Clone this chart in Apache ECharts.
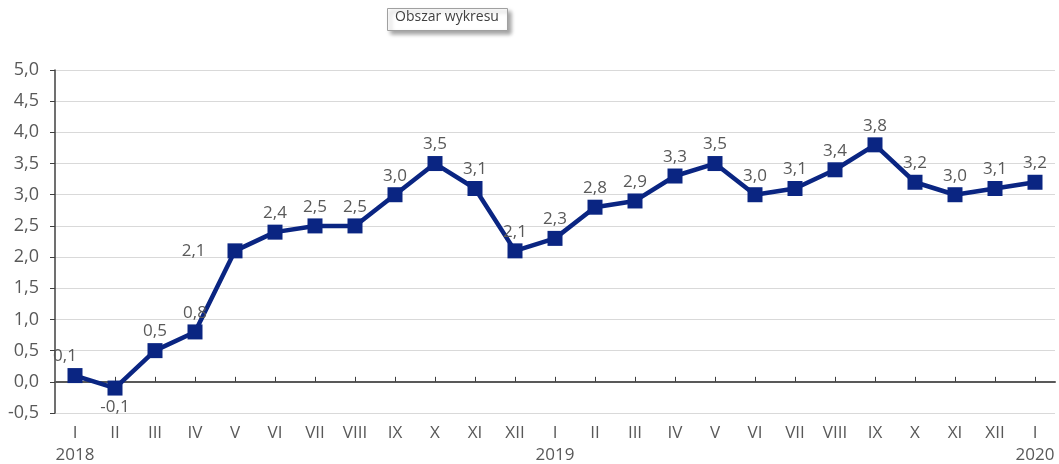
<!DOCTYPE html>
<html>
<head>
<meta charset="utf-8">
<script src="https://cdn.jsdelivr.net/npm/echarts@6/dist/echarts.min.js"></script>
<style>
html, body { margin: 0; padding: 0; background: #fff; }
#chart { width: 1059px; height: 464px; }
</style>
</head>
<body>
<div id="chart"></div>
<script>
var months = ['I', 'II', 'III', 'IV', 'V', 'VI', 'VII', 'VIII', 'IX', 'X', 'XI', 'XII',
	'I', 'II', 'III', 'IV', 'V', 'VI', 'VII', 'VIII', 'IX', 'X', 'XI', 'XII', 'I'];
var years = ['2018', '', '', '', '', '', '', '', '', '', '', '',
	'2019', '', '', '', '', '', '', '', '', '', '', '', '2020'];
var values = [0.1, -0.1, 0.5, 0.8, 2.1, 2.4, 2.5, 2.5, 3.0, 3.5, 3.1, 2.1,
	2.3, 2.8, 2.9, 3.3, 3.5, 3.0, 3.1, 3.4, 3.8, 3.2, 3.0, 3.1, 3.2];

var categories = [];
for (var i = 0; i < months.length; i++) {
	categories.push(months[i] + '\n' + years[i]);
}

function fmt(v) {
	return v.toFixed(1).replace('.', ',');
}

// etykiety – kilka punktów ma inne położenie
var seriesData = values.map(function (v, i) {
	var item = { value: v };
	if (i === 0) item.label = { position: 'top', offset: [-10, 0] };
	if (i === 1) item.label = { position: 'bottom', distance: 3 };
	if (i === 4) item.label = { position: 'left', distance: 22 };
	return item;
});

var txt = '#595959';
var font = '"Open Sans", "Noto Sans", sans-serif';

option = {
	animation: false,
	textStyle: { fontFamily: font },
	grid: { left: 55, right: 4, top: 70, bottom: 51, containLabel: false, outerBoundsMode: 'none' },
	xAxis: [
		{
			type: 'category',
			data: categories,
			boundaryGap: true,
			axisLine: { show: false, onZero: false },
			axisTick: { show: false },
			axisLabel: {
				color: txt, fontSize: 17, fontFamily: font,
				lineHeight: 22, margin: 9, interval: 0
			}
		},
		{
			type: 'category',
			data: categories,
			position: 'bottom',
			boundaryGap: true,
			axisLine: { show: true, onZero: true, lineStyle: { color: '#595959', width: 2 } },
			axisTick: { show: true, inside: true, alignWithLabel: true, length: 5, lineStyle: { color: '#404040' } },
			axisLabel: { show: false }
		}
	],
	yAxis: {
		type: 'value',
		min: -0.5,
		max: 5,
		interval: 0.5,
		axisLine: { show: true, lineStyle: { color: '#404040', width: 1.5 } },
		axisTick: { show: true, length: 5, lineStyle: { color: '#404040' } },
		axisLabel: {
			color: txt, fontSize: 18, fontFamily: font, margin: 16,
			formatter: function (v) { return fmt(v); }
		},
		splitLine: { lineStyle: { color: '#d9d9d9', width: 1 } }
	},
	series: [
		{
			type: 'line',
			xAxisIndex: 0,
			data: seriesData,
			symbol: 'rect',
			symbolSize: 15,
			lineStyle: { color: '#0a2582', width: 4.5 },
			itemStyle: { color: '#0a2582' },
			label: {
				show: true,
				position: 'top',
				distance: 3,
				color: txt,
				fontSize: 17,
				fontFamily: font,
				formatter: function (p) { return fmt(p.value); }
			}
		}
	],
	graphic: [
		{
			type: 'rect',
			left: 387, top: 8,
			shape: { width: 120, height: 22 },
			style: {
				fill: '#fff', stroke: '#a0a0a0', lineWidth: 1,
				shadowBlur: 4, shadowOffsetX: 3, shadowOffsetY: 3, shadowColor: 'rgba(0,0,0,0.35)'
			}
		},
		{
			type: 'text',
			left: 395, top: 10,
			style: { text: 'Obszar wykresu', fill: '#404040', font: '14px ' + font }
		}
	]
};

var chart = echarts.init(document.getElementById('chart'));
chart.setOption(option);
</script>
</body>
</html>
